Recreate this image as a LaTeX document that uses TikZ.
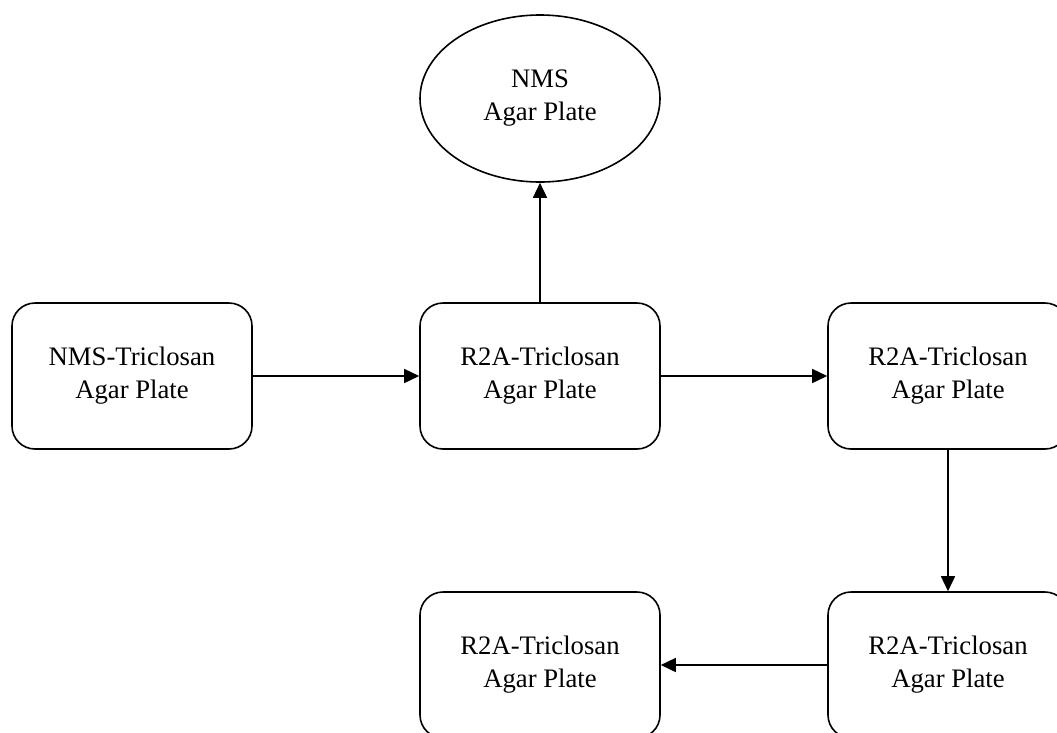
\documentclass[tikz,border=0pt]{standalone}
\usepackage{fontspec}
\setmainfont{Liberation Serif}
\usetikzlibrary{arrows.meta,shapes.geometric}
\tikzset{
	plate/.style={draw, rounded corners=23pt, minimum width=240pt, minimum height=146pt,
		inner sep=0pt, align=center, font=\fontsize{26.7}{33}\selectfont},
	dish/.style={draw, ellipse, minimum width=240pt, minimum height=167pt,
		inner sep=0pt, align=center, font=\fontsize{26.7}{33}\selectfont}
}
\begin{document}
\begin{tikzpicture}[x=1pt,y=-1pt,->,>={Triangle[length=15pt,width=14pt]},
				line width=1.6pt]
				\useasboundingbox (0,0) rectangle (1057,732);
				\node[plate] (nmst) at (132, 376) {NMS-Triclosan\\Agar Plate};
				\node[plate] (r2a1) at (540, 376) {R2A-Triclosan\\Agar Plate};
				\node[plate] (r2a2) at (948, 376) {R2A-Triclosan\\Agar Plate};
				\node[plate] (r2a3) at (948, 665) {R2A-Triclosan\\Agar Plate};
				\node[plate] (r2a4) at (540, 665) {R2A-Triclosan\\Agar Plate};
				\node[dish] (nms) at (540, 98.5) {NMS\\Agar Plate};
				%\path (nmst) edge (nms);
				\path (nmst) edge (r2a1);
				\path (r2a1) edge (nms);
				\path (r2a1) edge (r2a2);
				\path (r2a2) edge (r2a3);
				\path (r2a3) edge (r2a4);
			\end{tikzpicture}
\end{document}
